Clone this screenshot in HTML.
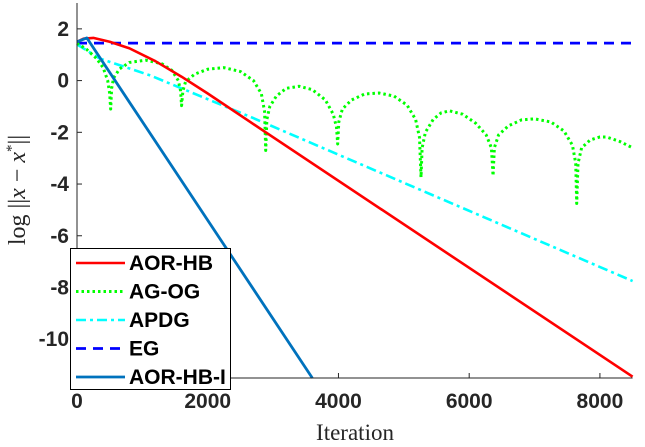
<!DOCTYPE html>
<html><head><meta charset="utf-8">
<style>
html,body{margin:0;padding:0;background:#fff;}
svg{display:block;}
.tick{font-family:"Liberation Sans",sans-serif;font-weight:bold;font-size:21px;fill:#262626;}
.leg{font-family:"Liberation Sans",sans-serif;font-weight:bold;font-size:21px;fill:#000;}
</style></head>
<body>
<svg id="chart" width="645" height="447" viewBox="0 0 645 447" xmlns="http://www.w3.org/2000/svg">
<g id="plot"></g>
<g id="axes"></g>
<text x="355" y="440" text-anchor="middle" font-family="Liberation Serif,serif" font-size="23" fill="#262626">Iteration</text>
<text transform="translate(25,190) rotate(-90)" text-anchor="middle" font-family="Liberation Serif,serif" font-size="24" fill="#262626">log ||<tspan font-style="italic">x</tspan> − <tspan font-style="italic">x</tspan><tspan font-size="15" dy="-9">*</tspan><tspan dy="9">||</tspan></text>
<g id="legend"></g>
</svg>
<script>
const xTicks=[0,2000,4000,6000,8000];
const yTicks=[2,0,-2,-4,-6,-8,-10];
const seriesNames=["AOR-HB","AG-OG","APDG","EG","AOR-HB-I"];
const aorX=[0,100,250,500,800,1200,1600,2000,2650,8500];
const aorY=[1.5,1.62,1.65,1.5,1.25,0.75,0.15,-0.5,-1.6,-11.45];
const agX=[0,150,300,400,470,500,515,530,560,650,800,1050,1300,1450,1550,1585,1600,1620,1660,1800,2000,2250,2500,2700,2820,2870,2887,2905,2950,3050,3200,3400,3600,3800,3920,3970,3988,4005,4060,4200,4400,4620,4850,5050,5180,5240,5263,5280,5330,5450,5570,5700,5900,6100,6260,6340,6365,6385,6450,6600,6800,7000,7250,7450,7580,7630,7645,7665,7720,7850,8000,8100,8300,8500];
const agY=[1.45,1.2,0.85,0.5,0.0,-0.5,-1.1,-0.3,0.1,0.45,0.7,0.79,0.65,0.4,0.0,-0.4,-0.97,-0.4,-0.05,0.25,0.44,0.5,0.35,0.0,-0.5,-1.2,-2.7,-1.5,-1.0,-0.6,-0.3,-0.22,-0.35,-0.75,-1.3,-1.8,-2.45,-1.6,-1.1,-0.75,-0.52,-0.48,-0.6,-0.95,-1.5,-2.2,-3.74,-2.6,-2.0,-1.5,-1.25,-1.17,-1.3,-1.65,-2.1,-2.6,-3.68,-2.6,-2.1,-1.75,-1.52,-1.48,-1.6,-1.95,-2.5,-3.2,-4.75,-3.2,-2.6,-2.3,-2.18,-2.18,-2.35,-2.6];
const apdgX=[0,350,1120,2650,8500];
const apdgY=[1.4,0.85,0.2,-1.4,-7.75];
const egX=[0,8500];
const egY=[1.45,1.45];
const aoriX=[0,150,3600];
const aoriY=[1.5,1.65,-11.5];

const X0=77,X1=632.6,Y0=3,Y1=378,xmin=0,xmax=8500,ymin=-11.5,ymax=3;
const sx=v=>X0+(v-xmin)/(xmax-xmin)*(X1-X0);
const sy=v=>Y1-(v-ymin)/(ymax-ymin)*(Y1-Y0);
const NS="http://www.w3.org/2000/svg";
const plot=document.getElementById('plot'),axes=document.getElementById('axes'),legend=document.getElementById('legend');
function mk(tag,attrs,parent){const e=document.createElementNS(NS,tag);for(const k in attrs)e.setAttribute(k,attrs[k]);parent.appendChild(e);return e;}
const styles=[
 {c:"#ff0000",w:2.6,d:"",xs:aorX,ys:aorY},
 {c:"#00ff00",w:3,d:"2.5 3",xs:agX,ys:agY},
 {c:"#00ffff",w:2.6,d:"10 4 3 4",xs:apdgX,ys:apdgY},
 {c:"#0000ff",w:2.8,d:"10 7",xs:egX,ys:egY},
 {c:"#0072bd",w:2.8,d:"",xs:aoriX,ys:aoriY}
];
const order=[3,2,1,0,4];
order.forEach(i=>{
 const s=styles[i];
 const p=s.xs.map((x,j)=>(j?'L':'M')+sx(x).toFixed(2)+' '+sy(s.ys[j]).toFixed(2)).join(' ');
 const el=mk('path',{d:p,fill:'none',stroke:s.c,'stroke-width':s.w,'stroke-dasharray':s.d,'stroke-linejoin':'round'},plot);
 
 
});
const xa=mk('line',{x1:X0,y1:Y1,x2:X1,y2:Y1,stroke:'#262626','stroke-width':1},axes);


const ya=mk('line',{x1:X0,y1:Y0,x2:X0,y2:Y1,stroke:'#262626','stroke-width':1},axes);


xTicks.forEach(t=>{
 mk('line',{x1:sx(t),y1:Y1,x2:sx(t),y2:Y1-5,stroke:'#262626'},axes);
 const tx=mk('text',{x:sx(t),y:Y1+30,'text-anchor':'middle',class:'tick'},axes);
 tx.textContent=t;
 
 
});
yTicks.forEach(t=>{
 mk('line',{x1:X0,y1:sy(t),x2:X0+5,y2:sy(t),stroke:'#262626'},axes);
 const tx=mk('text',{x:X0-8,y:sy(t)+7,'text-anchor':'end',class:'tick'},axes);
 tx.textContent=t;
 
 
});
mk('rect',{x:70.5,y:248.5,width:160,height:141,fill:'#fff',stroke:'#000','stroke-width':1},legend);
seriesNames.forEach((n,i)=>{
 const s=styles[i],y=263+i*28.5;
 const g=mk('g',{},legend);
 
 
 mk('line',{x1:76,y1:y,x2:125,y2:y,stroke:s.c,'stroke-width':s.w,'stroke-dasharray':s.d},g);
 const t=mk('text',{x:129,y:y+7,class:'leg'},g);
 t.textContent=n;
});
</script>
</body></html>
